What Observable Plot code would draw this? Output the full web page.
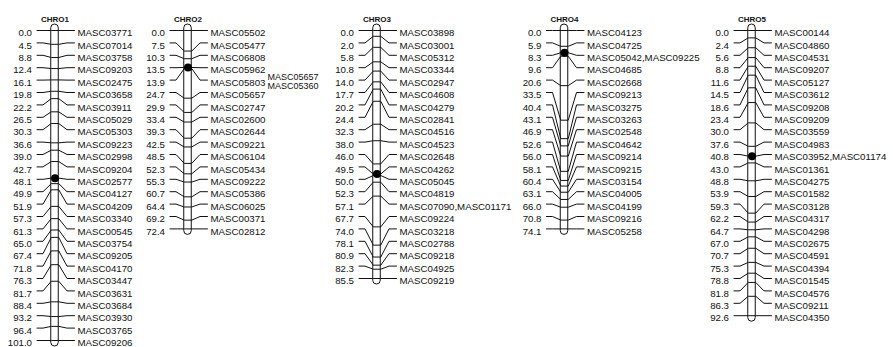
<!DOCTYPE html>
<html>
<head>
<meta charset="utf-8">
<script src="https://cdn.jsdelivr.net/npm/d3@7"></script>
<script src="https://cdn.jsdelivr.net/npm/@observablehq/plot@0.6"></script>
<style>
  body { margin: 0; background: #fff; }
  #chart { display: flex; width: 893px; height: 347px; }
  #chart svg { overflow: visible; display: block; }
</style>
</head>
<body>
<div id="chart"></div>
<script>
const titles = ["CHRO1", "CHRO2", "CHRO3", "CHRO4", "CHRO5"];

const chr1Pos = [0.0, 4.5, 8.8, 12.4, 16.1, 19.8, 22.2, 26.5, 30.3, 36.6, 39.0, 42.7, 48.1, 49.9, 51.9, 57.3, 61.3, 65.0, 67.4, 71.8, 76.3, 81.7, 88.4, 93.2, 96.4, 101.0];
const chr1Names = ["MASC03771", "MASC07014", "MASC03758", "MASC09203", "MASC02475", "MASC03658", "MASC03911", "MASC05029", "MASC05303", "MASC09223", "MASC02998", "MASC09204", "MASC02577", "MASC04127", "MASC04209", "MASC03340", "MASC00545", "MASC03754", "MASC09205", "MASC04170", "MASC03447", "MASC03631", "MASC03684", "MASC03930", "MASC03765", "MASC09206"];

const chr2Pos = [0.0, 7.5, 10.3, 13.5, 13.9, 24.7, 29.9, 33.4, 39.3, 42.5, 48.5, 52.3, 55.3, 60.7, 64.4, 69.2, 72.4];
const chr2Names = ["MASC05502", "MASC05477", "MASC06808", "MASC05962", "MASC05803", "MASC05657", "MASC02747", "MASC02600", "MASC02644", "MASC09221", "MASC06104", "MASC05434", "MASC09222", "MASC05386", "MASC06025", "MASC00371", "MASC02812"];
const chr2Stacked = ["MASC05657", "MASC05360"]; // extra names of marker 13.9

const chr3Pos = [0.0, 2.0, 5.8, 10.8, 14.0, 17.7, 20.2, 24.4, 32.3, 38.0, 46.0, 49.5, 50.0, 52.3, 57.1, 67.7, 74.0, 78.1, 80.9, 82.3, 85.5];
const chr3Names = ["MASC03898", "MASC03001", "MASC05312", "MASC03344", "MASC02947", "MASC04608", "MASC04279", "MASC02841", "MASC04516", "MASC04523", "MASC02648", "MASC04262", "MASC05045", "MASC04819", "MASC07090,MASC01171", "MASC09224", "MASC03218", "MASC02788", "MASC09218", "MASC04925", "MASC09219"];

const chr4Pos = [0.0, 5.9, 8.3, 9.6, 20.6, 33.5, 40.4, 43.1, 46.9, 52.6, 56.0, 58.1, 60.4, 63.1, 66.0, 70.8, 74.1];
const chr4Names = ["MASC04123", "MASC04725", "MASC05042,MASC09225", "MASC04685", "MASC02668", "MASC09213", "MASC03275", "MASC03263", "MASC02548", "MASC04642", "MASC09214", "MASC09215", "MASC03154", "MASC04005", "MASC04199", "MASC09216", "MASC05258"];

const chr5Pos = [0.0, 2.4, 5.6, 8.8, 11.6, 14.5, 18.6, 23.4, 30.0, 37.6, 40.8, 43.0, 48.8, 53.9, 59.3, 62.2, 64.7, 67.0, 70.7, 75.3, 78.8, 81.8, 86.3, 92.6];
const chr5Names = ["MASC00144", "MASC04860", "MASC04531", "MASC09207", "MASC05127", "MASC03612", "MASC09208", "MASC09209", "MASC03559", "MASC04983", "MASC03952,MASC01174", "MASC01361", "MASC04275", "MASC01582", "MASC03128", "MASC04317", "MASC04298", "MASC02675", "MASC04591", "MASC04394", "MASC01545", "MASC04576", "MASC09211", "MASC04350"];

const centromeres = [48.1, 13.5, 49.5, 8.3, 40.8];

const allPos = [chr1Pos, chr2Pos, chr3Pos, chr4Pos, chr5Pos];
const allNames = [chr1Names, chr2Names, chr3Names, chr4Names, chr5Names];

// layout (pixels)
const panels = [
  {left: 0, width: 140, center: 54.5},
  {left: 140, width: 190, center: 187.5},
  {left: 330, width: 190, center: 376.5},
  {left: 520, width: 185, center: 564},
  {left: 705, width: 188, center: 751.5}
];
const topY = 30, gap = 12.4, half = 3.75;
const ink = "#111";
const font = "'Liberation Sans', Arial, sans-serif";

const chart = document.getElementById("chart");

titles.forEach((title, k) => {
  const pos = allPos[k], names = allNames[k], P = panels[k];
  const n = pos.length, max = pos[n - 1];
  const rows = pos.map((p, i) => ({i, cm: p, row: i / (n - 1) * max, name: names[i], label: p.toFixed(1)}));
  const segs = rows.flatMap(r => [
    {id: r.i, x: -18, y: r.row},
    {id: r.i, x: -12, y: r.row},
    {id: r.i, x: -half, y: r.cm},
    {id: r.i, x: half, y: r.cm},
    {id: r.i, x: 12, y: r.row},
    {id: r.i, x: 19.5, y: r.row}
  ]);
  const offset = P.center - P.left;
  const marks = [
    Plot.rect([0], {x1: -half, x2: half, y1: 0, y2: max, insetTop: -6, insetBottom: -6, rx: half, fill: "white", stroke: ink, strokeWidth: 1}),
    Plot.line(segs, {x: "x", y: "y", z: "id", stroke: ink, strokeWidth: 1, curve: "linear"}),
    Plot.dot([centromeres[k]], {x: 0, y: d => d, r: 4, fill: "#000", stroke: "none"}),
    Plot.text(rows, {x: -23, y: "row", text: "label", textAnchor: "end", dy: 2.5, fill: ink, fontSize: 9.7}),
    Plot.text(rows, {x: 22.5, y: "row", text: "name", textAnchor: "start", dy: 2.5, fill: ink, fontSize: 9.7}),
    Plot.text([title], {x: 0, frameAnchor: "top", dy: 16, text: d => d, fontWeight: "bold", fontSize: 8, fill: ink, letterSpacing: "0.6px"})
  ];
  if (k === 1) {
    marks.push(Plot.text([chr2Stacked.join("\n")], {x: 79.5, y: rows[4].row, text: d => d, textAnchor: "start", dy: 2, lineHeight: 1, fill: ink, fontSize: 9}));
  }
  const svg = Plot.plot({
    width: P.width,
    height: 347,
    margin: 0,
    x: {type: "linear", domain: [-offset, P.width - offset], range: [0, P.width], axis: null},
    y: {domain: [0, max], range: [topY, topY + (n - 1) * gap], axis: null},
    style: {fontFamily: font, fontSize: "9.7px", background: "transparent", overflow: "visible"},
    marks
  });
  chart.appendChild(svg);
});
</script>
</body>
</html>
